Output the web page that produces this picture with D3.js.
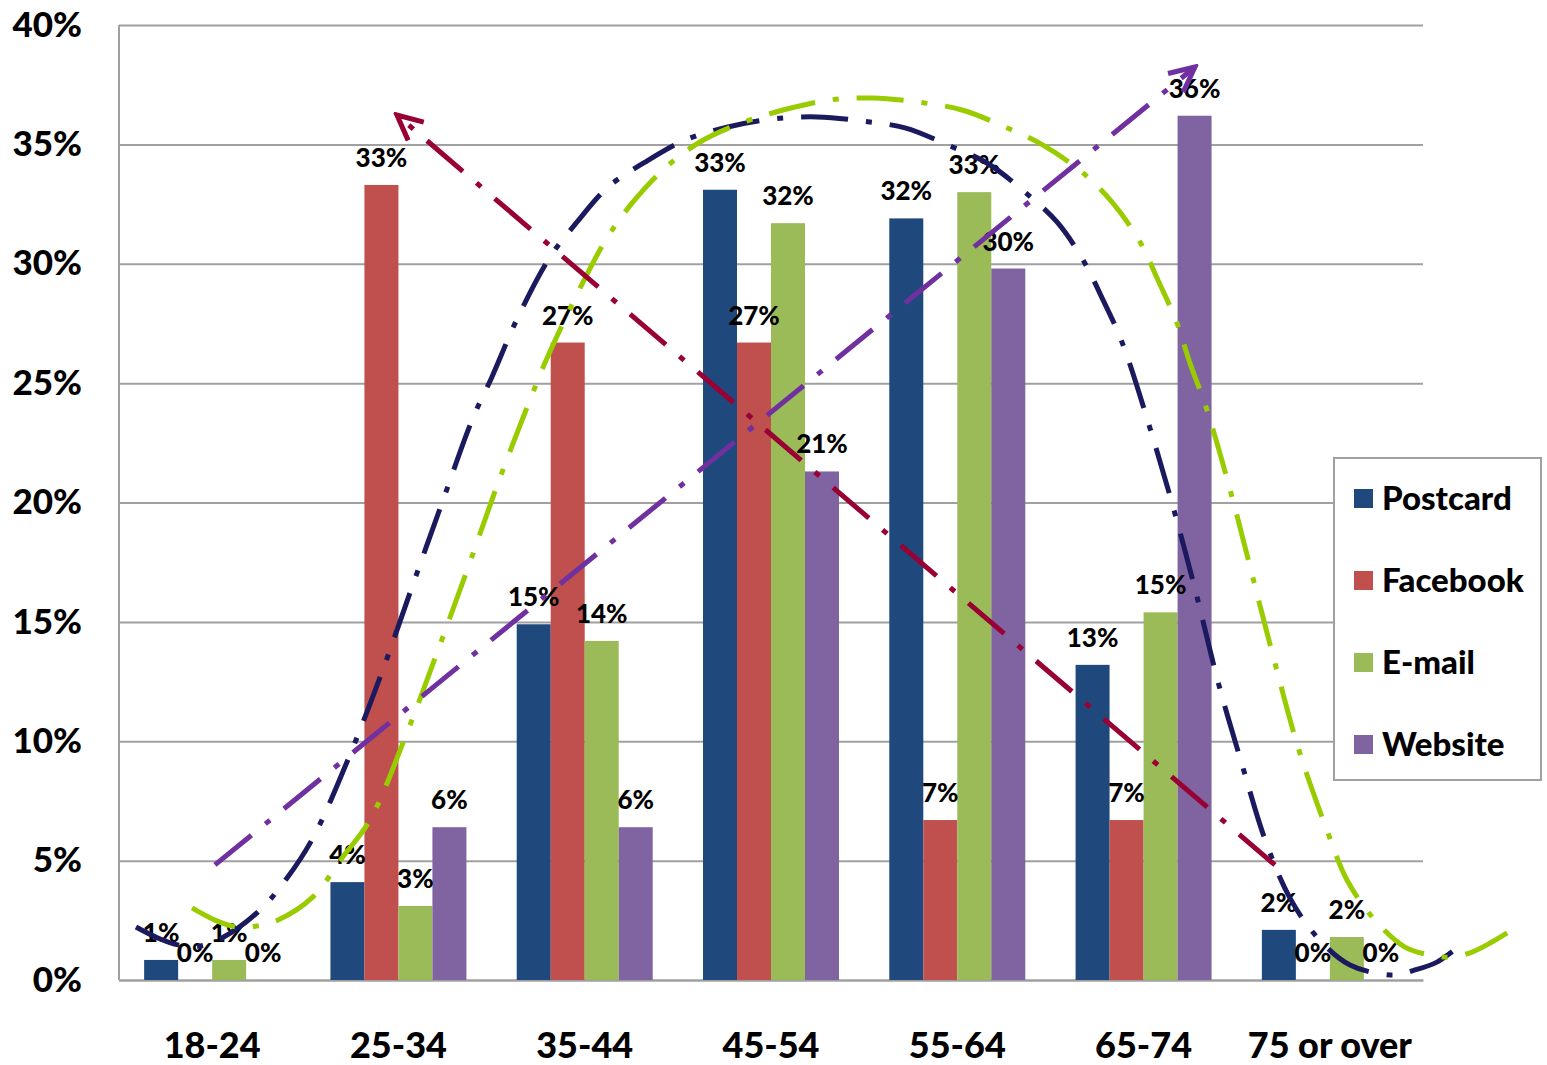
<!DOCTYPE html>
<html><head><meta charset="utf-8">
<script src="https://cdn.jsdelivr.net/npm/d3@7"></script>
<style>
body{margin:0;background:#fff;}
svg{display:block;}
text{font-family:Lato,"Open Sans",sans-serif;font-weight:900;fill:#000;}
</style>
</head><body>
<svg id="c" width="1547" height="1065"></svg>
<script>
const categories = ["18-24","25-34","35-44","45-54","55-64","65-74","75 or over"];
const seriesNames = ["Postcard","Facebook","E-mail","Website"];
const postcard = [0.84,4.1,14.9,33.1,31.9,13.2,2.1];
const facebook = [0,33.3,26.7,26.7,6.7,6.7,0];
const email    = [0.84,3.1,14.2,31.7,33.0,15.4,1.8];
const website  = [0,6.4,6.4,21.3,29.8,36.2,0];
const yTicks = [0,5,10,15,20,25,30,35,40];
const seriesColors = ["#1F497D","#C0504D","#9BBB59","#8064A2"];

// hand-drawn curves: [category position (0 = centre of first group), percent]
const postcardCurve = [[-0.409,2.22],[-0.291,1.76],[-0.183,1.47],[-0.065,1.42],[0.053,1.76],[0.257,2.93],[0.402,4.27],[0.541,5.95],[0.735,9.34],[0.912,12.90],[1.073,16.46],[1.234,19.98],[1.400,23.54],[1.502,25.26],[1.642,27.77],[1.814,30.28],[1.959,31.75],[2.125,33.21],[2.324,34.26],[2.538,35.18],[2.769,35.73],[3.005,36.06],[3.247,36.15],[3.488,35.98],[3.719,35.69],[3.950,34.97],[4.159,34.22],[4.363,33.00],[4.535,31.75],[4.675,30.16],[4.777,28.57],[4.884,26.72],[5.029,23.25],[5.163,19.69],[5.287,16.04],[5.400,12.48],[5.534,8.88],[5.653,5.86],[5.786,3.43],[5.931,1.80],[6.108,0.63],[6.339,0.21],[6.457,0.42],[6.575,0.75],[6.688,1.38]];
const emailCurve = [[-0.108,3.02],[0.015,2.51],[0.133,2.22],[0.241,2.26],[0.354,2.51],[0.541,3.48],[0.697,5.11],[0.847,6.70],[1.035,10.14],[1.207,13.70],[1.373,17.26],[1.535,20.82],[1.706,24.29],[1.798,26.05],[2.002,29.40],[2.120,31.08],[2.254,32.54],[2.431,34.01],[2.619,35.10],[2.844,35.90],[3.064,36.44],[3.317,36.86],[3.542,36.94],[3.789,36.77],[4.025,36.44],[4.256,35.73],[4.460,34.97],[4.669,33.84],[4.830,32.59],[4.981,30.91],[5.077,29.32],[5.179,27.52],[5.249,25.84],[5.335,24.00],[5.469,20.40],[5.587,16.84],[5.705,13.28],[5.834,9.63],[5.990,6.16],[6.092,4.19],[6.232,2.60],[6.403,1.38],[6.538,1.05],[6.645,0.96],[6.763,1.17],[6.870,1.59],[6.994,2.18]];
const facebookArrow = [[5.705,4.82],[0.992,36.23]];
const websiteArrow  = [[0.015,4.82],[5.276,38.24]];

const curveDefs = [
  {pts: postcardCurve, color:"#1B1A5E", arrow:false},
  {pts: emailCurve,    color:"#99CC00", arrow:false},
  {pts: facebookArrow, color:"#990033", arrow:true},
  {pts: websiteArrow,  color:"#7030A0", arrow:true}
];

const svg = d3.select("#c");
const L = 119, R = 1423, T = 25, B = 980;
const x = d3.scaleBand().domain(categories).range([L,R]).paddingInner(0.27).paddingOuter(0.135);
const x1 = d3.scaleBand().domain(seriesNames).range([0,x.bandwidth()]);
const y = d3.scaleLinear().domain([0,40]).range([B,T]);
const xPos = d3.scaleLinear().domain([0,categories.length-1])
  .range([x(categories[0])+x.bandwidth()/2, x(categories[categories.length-1])+x.bandwidth()/2]);

// grid + y axis
const gy = svg.append("g").attr("transform",`translate(${L},0)`)
  .call(d3.axisLeft(y).tickValues(yTicks).tickSize(-(R-L)).tickPadding(37).tickFormat(d=>d+"%"));
gy.select(".domain").remove();
gy.selectAll(".tick line").attr("stroke","#A0A0A0").attr("stroke-width",2);
gy.selectAll(".tick text").style("font-size","35px").attr("fill","#000");
svg.append("line").attr("x1",L).attr("x2",L).attr("y1",T).attr("y2",B).attr("stroke","#A0A0A0").attr("stroke-width",2);

// x axis
const gx = svg.append("g").attr("transform",`translate(0,${B})`)
  .call(d3.axisBottom(x).tickSize(0));
gx.select(".domain").attr("stroke","#A0A0A0").attr("stroke-width",2);
gx.selectAll(".tick text").attr("y",78).attr("dy",0).style("font-size","36px").attr("fill","#000");

const seriesData = [postcard,facebook,email,website];
const groups = svg.append("g").selectAll("g").data(categories).join("g")
  .attr("transform",d=>`translate(${x(d)},0)`);
groups.selectAll("rect").data((c,ci)=>seriesNames.map((s,si)=>({s,si,v:seriesData[si][ci]})))
  .join("rect")
  .attr("x",d=>x1(d.s)).attr("width",x1.bandwidth())
  .attr("y",d=>y(d.v)).attr("height",d=>B-y(d.v))
  .attr("fill",d=>seriesColors[d.si]);
groups.selectAll("text").data((c,ci)=>seriesNames.map((s,si)=>({s,si,v:seriesData[si][ci]})))
  .join("text")
  .attr("x",d=>x1(d.s)+x1.bandwidth()/2).attr("y",d=>y(d.v)-18)
  .attr("text-anchor","middle").style("font-size","26px")
  .text(d=>Math.round(d.v)+"%");

// arrow markers
const defs = svg.append("defs");
curveDefs.filter(c=>c.arrow).forEach((c,i)=>{
  defs.append("marker").attr("id","arr"+i).attr("markerUnits","userSpaceOnUse")
    .attr("viewBox","-32 -16 36 32").attr("markerWidth",36).attr("markerHeight",32)
    .attr("refX",0).attr("refY",0).attr("orient","auto")
    .append("path").attr("d","M-25,-12 L0,0 L-25,12").attr("fill","none")
    .attr("stroke",c.color).attr("stroke-width",5);
  c.marker = "arr"+i;
});

const line = d3.line().x(d=>xPos(d[0])).y(d=>y(d[1])).curve(d3.curveCatmullRom.alpha(0.5));
svg.append("g").selectAll("path").data(curveDefs).join("path")
  .attr("d",d=>line(d.pts))
  .attr("fill","none").attr("stroke",d=>d.color).attr("stroke-width",5)
  .attr("stroke-dasharray","47,18,6,18")
  .attr("marker-end",d=>d.arrow?`url(#${d.marker})`:null);

// legend
const lg = svg.append("g");
lg.append("rect").attr("x",1334).attr("y",458).attr("width",207).attr("height",322)
  .attr("fill","#fff").attr("stroke","#A0A0A0").attr("stroke-width",2);
const li = lg.selectAll("g").data(seriesNames).join("g")
  .attr("transform",(d,i)=>`translate(1354,${498+i*82})`);
li.append("rect").attr("x",0).attr("y",-9).attr("width",19).attr("height",19).attr("fill",(d,i)=>seriesColors[i]);
li.append("text").attr("x",28).attr("y",0).attr("dy","0.36em").style("font-size","33px").text(d=>d);
</script>
</body></html>
